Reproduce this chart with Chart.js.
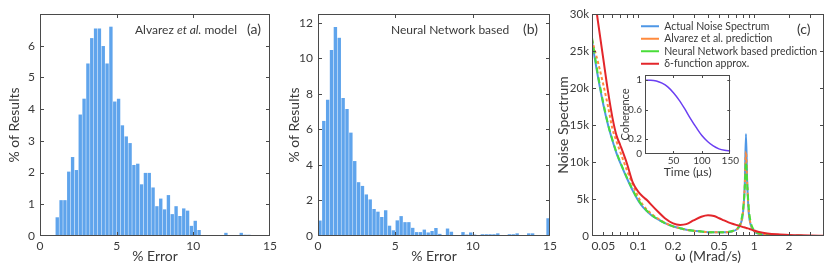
<!DOCTYPE html>
<html><head><meta charset="utf-8">
<script src="https://cdn.jsdelivr.net/npm/chart.js@4.4.1/dist/chart.umd.min.js"></script>
<style>
html,body{margin:0;padding:0;background:#fff;}
#wrap{position:relative;width:830px;height:274px;overflow:hidden;font-family:Lato,"DejaVu Sans",sans-serif;color:#3a3a3a;}
canvas{position:absolute;}
.lbl{position:absolute;font-size:12px;line-height:14px;white-space:nowrap;}
.pl{font-size:14px;}
</style></head><body>
<div id="wrap">
<canvas id="ca" width="280" height="274" style="left:0;top:0"></canvas>
<canvas id="cb" width="280" height="274" style="left:280px;top:0"></canvas>
<canvas id="cc" width="277" height="274" style="left:553px;top:0"></canvas>
<canvas id="ci" width="130" height="120" style="left:610px;top:62px"></canvas>
<div class="lbl" style="left:135px;top:23px">Alvarez <i>et al.</i> model</div>
<div class="lbl pl" style="left:247px;top:22px">(a)</div>
<div class="lbl" style="left:391px;top:23px">Neural Network based</div>
<div class="lbl pl" style="left:523px;top:22px">(b)</div>
<div class="lbl pl" style="left:797px;top:22px">(c)</div>
</div>
<script>
// ---------- Data ----------
const binCenters = [0.125,0.375,0.625,0.875,1.125,1.375,1.625,1.875,2.125,2.375,2.625,2.875,3.125,3.375,3.625,3.875,4.125,4.375,4.625,4.875,5.125,5.375,5.625,5.875,6.125,6.375,6.625,6.875,7.125,7.375,7.625,7.875,8.125,8.375,8.625,8.875,9.125,9.375,9.625,9.875,10.125,10.375,10.625,10.875,11.125,11.375,11.625,11.875,12.125,12.375,12.625,12.875,13.125,13.375,13.625,13.875,14.125,14.375,14.625,14.875];
const alvarezPct = [0,0,0,0,0.59,1.13,1.13,2.03,2.49,2.08,3.83,4.33,5.44,6.24,6.54,6.54,5.99,5.44,6.6,4.24,4.33,3.49,3.14,2.93,2.24,2.28,1.63,1.99,1.99,1.53,0.94,1.18,0.84,1.29,0.69,0.94,0.63,0.87,0.8,0.32,0.48,0.19,0,0.03,0,0,0.03,0,0.1,0,0.03,0.03,0.1,0.04,0.04,0,0,0,0,0];
const neuralPct = [0.87,6.48,7.67,10.48,11.77,11.16,7.77,7.15,5.82,4.22,3.03,2.82,2.34,2.06,1.52,1.37,1.07,1.45,0.58,0.32,0.88,1.12,0.78,0.78,0.46,0.22,0.22,0.36,0.2,0.28,0.45,0.12,0,0.42,0.24,0.05,0.05,0.22,0.08,0.2,0.08,0.05,0.1,0.1,0.1,0.1,0.15,0.05,0.05,0.1,0.1,0.15,0,0,0.15,0.15,0,0,0,1.0];
const errTicks = [0,5,10,15];
const pctTicksA = [0,1,2,3,4,5,6];
const pctTicksB = [0,2,4,6,8,10,12];

const omega = [0.04,0.045,0.05,0.055,0.06,0.065,0.07,0.08,0.09,0.1,0.11,0.12,0.13,0.15,0.17,0.2,0.23,0.26,0.3,0.35,0.4,0.45,0.5,0.55,0.6,0.65,0.7,0.74,0.77,0.8,0.83,0.85,0.87,0.9,0.93,0.97,1.02,1.1,1.3,1.6,2.0,2.5,3.0,4.0];
const actualSpec = [26.3,21.5,17.8,15.0,12.9,11.2,9.9,7.8,6.1,4.8,3.9,3.3,2.8,2.2,1.75,1.3,1.05,0.85,0.7,0.6,0.52,0.5,0.5,0.5,0.55,0.65,0.85,1.2,1.8,3.0,7.0,13.8,7.5,3.0,1.6,0.9,0.5,0.28,0.12,0.06,0.03,0.02,0.01,0.01];
const alvarezSpec = [26.5,23.5,20.5,17.5,14.5,12.8,11.4,8.9,6.9,5.3,4.2,3.5,3.0,2.3,1.8,1.3,1.05,0.85,0.7,0.6,0.52,0.5,0.5,0.5,0.55,0.65,0.85,1.2,1.8,3.2,6.8,11.4,7.3,3.2,1.7,1.0,0.55,0.3,0.13,0.06,0.03,0.02,0.01,0.01];
const neuralSpec = [26.8,21.8,18.0,15.1,13.0,11.3,10.0,7.9,6.2,4.9,4.0,3.35,2.85,2.2,1.75,1.3,1.05,0.85,0.7,0.6,0.52,0.5,0.5,0.5,0.56,0.68,0.9,1.3,2.0,3.4,6.5,10.0,7.2,3.6,2.0,1.1,0.6,0.35,0.15,0.07,0.04,0.02,0.01,0.01];
const deltaSpec = [35,29,24,19.5,16,13.6,12.3,9.8,7.2,6.0,5.3,4.8,4.2,3.2,2.4,1.7,1.5,1.6,2.1,2.6,2.8,2.7,2.4,2.1,1.85,1.65,1.5,1.4,1.3,1.2,1.15,1.1,1.05,1.0,0.9,0.8,0.7,0.55,0.35,0.22,0.14,0.09,0.06,0.03];
const specMinorTicks = [0.04,0.05,0.06,0.07,0.08,0.09,0.1,0.2,0.3,0.4,0.5,0.6,0.7,0.8,0.9,1,2,3,4];
const specTickValues = [0.05,0.1,0.2,0.5,1,2];
const specTickLabels = ['0.05','0.1','0.2','0.5','1','2'];
const specYTicks = [0,5,10,15,20,25,30];

const coherenceTime = [0,10,20,30,40,50,60,70,80,90,100,110,120,130,140,150];
const coherence = [1.0,1.0,0.99,0.96,0.91,0.83,0.73,0.61,0.48,0.36,0.25,0.17,0.11,0.07,0.05,0.04];
const insetXTicks = [50,100,150];
const insetYTicks = [0,0.2,0.6,1];
const insetYLabels = ['0','0.2','0.6','1'];

// ---------- Style ----------
const FONT = 'Lato, "DejaVu Sans", sans-serif';
const TXT = '#3a3a3a';
const AX = '#4a4a4a';
const BAR = '#5fa4ec';
Chart.defaults.font.family = FONT;
Chart.defaults.color = TXT;
Chart.defaults.animation = false;

const boxTicks = {
  id: 'boxTicks',
  afterDatasetsDraw(chart, args, opts) {
    const {ctx, chartArea: a, scales: {x, y}} = chart;
    const L = opts.len || 4;
    ctx.save();
    ctx.strokeStyle = AX; ctx.lineWidth = 1;
    ctx.beginPath();
    x.ticks.forEach(t => {
      const px = Math.round(x.getPixelForValue(t.value)) + 0.5;
      if (px <= a.left + 1 || px >= a.right - 1) return;
      ctx.moveTo(px, a.bottom); ctx.lineTo(px, a.bottom - L);
      ctx.moveTo(px, a.top); ctx.lineTo(px, a.top + L);
    });
    y.ticks.forEach(t => {
      const py = Math.round(y.getPixelForValue(t.value)) + 0.5;
      if (py <= a.top + 1 || py >= a.bottom - 1) return;
      ctx.moveTo(a.left, py); ctx.lineTo(a.left + L, py);
      ctx.moveTo(a.right, py); ctx.lineTo(a.right - L, py);
    });
    ctx.stroke();
    ctx.strokeRect(Math.round(a.left) + 0.5, Math.round(a.top) + 0.5, Math.round(a.right - a.left) - 1, Math.round(a.bottom - a.top) - 1);
    ctx.restore();
  }
};
const whiteArea = {
  id: 'whiteArea',
  beforeDraw(chart) {
    const {ctx, chartArea: a} = chart;
    ctx.save(); ctx.fillStyle = '#fff'; ctx.fillRect(a.left, a.top, a.right - a.left, a.bottom - a.top); ctx.restore();
  }
};
const legendShift = {
  id: 'legendShift',
  afterLayout(chart, args, opts) {
    const l = chart.legend; if (!l) return;
    l.left += opts.dx; l.right += opts.dx; l.top += opts.dy; l.bottom += opts.dy;
  }
};
const noGrid = { display: false, drawTicks: false };

function histChart(id, values, yMax, yTicks, leftW) {
  return new Chart(document.getElementById(id), {
    type: 'bar',
    data: { datasets: [{ data: binCenters.map((x, i) => ({x, y: values[i]})), backgroundColor: BAR, barPercentage: 0.88, categoryPercentage: 1, borderWidth: 0 }] },
    options: {
      responsive: false,
      layout: { padding: { top: 14, right: 10, left: 0, bottom: 0 } },
      plugins: { legend: { display: false }, tooltip: { enabled: false }, boxTicks: { len: 4 } },
      scales: {
        x: {
          type: 'linear', min: 0, max: 15, offset: false,
          grid: noGrid, border: { display: false },
          afterBuildTicks: s => { s.ticks = errTicks.map(v => ({value: v})); },
          ticks: { padding: 3, font: { size: 12 }, maxRotation: 0, autoSkip: false, color: TXT },
          title: { display: true, text: '% Error', font: { size: 14 }, color: TXT, padding: { top: 0, bottom: 9 } },
          afterFit: s => { s.height = 38; }
        },
        y: {
          min: 0, max: yMax,
          grid: noGrid, border: { display: false },
          afterBuildTicks: s => { s.ticks = yTicks.map(v => ({value: v})); },
          ticks: { padding: 5, font: { size: 12 }, autoSkip: false, color: TXT },
          title: { display: true, text: '% of Results', font: { size: 14 }, color: TXT, padding: { top: 6, bottom: 0 } },
          afterFit: s => { s.width = leftW; }
        }
      }
    },
    plugins: [boxTicks]
  });
}
histChart('ca', alvarezPct, 7, pctTicksA, 40);
histChart('cb', neuralPct, 12.5, pctTicksB, 38);

const pts = arr => omega.map((w, i) => ({x: w, y: arr[i]}));
new Chart(document.getElementById('cc'), {
  type: 'line',
  data: {
    datasets: [
      { label: 'Actual Noise Spectrum', data: pts(actualSpec), borderColor: '#4e97e6', borderWidth: 2, order: 4 },
      { label: 'Alvarez et al. prediction', data: pts(alvarezSpec), borderColor: '#ff8a3d', borderWidth: 2, borderDash: [3, 2.5], order: 3 },
      { label: 'Neural Network based prediction', data: pts(neuralSpec), borderColor: '#49dd38', borderWidth: 2, borderDash: [6, 4], order: 2 },
      { label: 'δ-function approx.', data: pts(deltaSpec), borderColor: '#e3262b', borderWidth: 2, order: 1 }
    ]
  },
  options: {
    responsive: false,
    elements: { point: { radius: 0 }, line: { cubicInterpolationMode: 'monotone' } },
    layout: { padding: { top: 14, right: 6, left: 0, bottom: 0 } },
    plugins: {
      tooltip: { enabled: false },
      boxTicks: { len: 4 },
      legendShift: { dx: 47, dy: 19 },
      legend: {
        position: 'chartArea', align: 'start',
        labels: {
          usePointStyle: true, pointStyle: 'line', pointStyleWidth: 18, padding: 2,
          font: { size: 10.5 }, color: TXT,
          sort: (a, b) => a.datasetIndex - b.datasetIndex
        }
      }
    },
    scales: {
      x: {
        type: 'logarithmic', min: 0.04, max: 4,
        grid: noGrid, border: { display: false },
        afterBuildTicks: s => { s.ticks = specMinorTicks.map(v => ({value: v})); },
        ticks: {
          padding: 3, font: { size: 12 }, maxRotation: 0, autoSkip: false, color: TXT,
          callback: v => { const k = specTickValues.indexOf(v); return k >= 0 ? specTickLabels[k] : ''; }
        },
        title: { display: true, text: 'ω (Mrad/s)', font: { size: 14 }, color: TXT, padding: { top: 0, bottom: 9 } },
        afterFit: s => { s.height = 38; }
      },
      y: {
        min: 0, max: 30,
        grid: noGrid, border: { display: false },
        afterBuildTicks: s => { s.ticks = specYTicks.map(v => ({value: v})); },
        ticks: { padding: 3, font: { size: 11.5 }, autoSkip: false, color: TXT, callback: v => v === 0 ? '0' : v + 'k' },
        title: { display: true, text: 'Noise Spectrum', font: { size: 14 }, color: TXT, padding: { top: 2, bottom: 0 } },
        afterFit: s => { s.width = 39; }
      }
    }
  },
  plugins: [boxTicks, legendShift]
});

new Chart(document.getElementById('ci'), {
  type: 'line',
  data: { datasets: [{ data: coherenceTime.map((t, i) => ({x: t, y: coherence[i]})), borderColor: '#6b3ff2', borderWidth: 1.5, pointRadius: 0, cubicInterpolationMode: 'monotone' }] },
  options: {
    responsive: false,
    layout: { padding: { top: 13, right: 8, left: 0, bottom: 0 } },
    plugins: { legend: { display: false }, tooltip: { enabled: false }, boxTicks: { len: 3 } },
    scales: {
      x: {
        type: 'linear', min: 0, max: 150,
        grid: noGrid, border: { display: false },
        afterBuildTicks: s => { s.ticks = insetXTicks.map(v => ({value: v})); },
        ticks: { padding: 1, font: { size: 10 }, maxRotation: 0, autoSkip: false, color: TXT },
        title: { display: true, text: 'Time (μs)', font: { size: 12 }, color: TXT, padding: { top: 0, bottom: 3 } },
        afterFit: s => { s.height = 28; }
      },
      y: {
        min: 0, max: 1.07,
        grid: noGrid, border: { display: false },
        afterBuildTicks: s => { s.ticks = insetYTicks.map(v => ({value: v})); },
        ticks: { padding: 3, font: { size: 10 }, autoSkip: false, color: TXT, callback: v => insetYLabels[insetYTicks.indexOf(v)] },
        title: { display: true, text: 'Coherence', font: { size: 11 }, color: TXT, padding: { top: 9, bottom: 0 } },
        afterFit: s => { s.width = 35; }
      }
    }
  },
  plugins: [whiteArea, boxTicks]
});
</script>
</body></html>
